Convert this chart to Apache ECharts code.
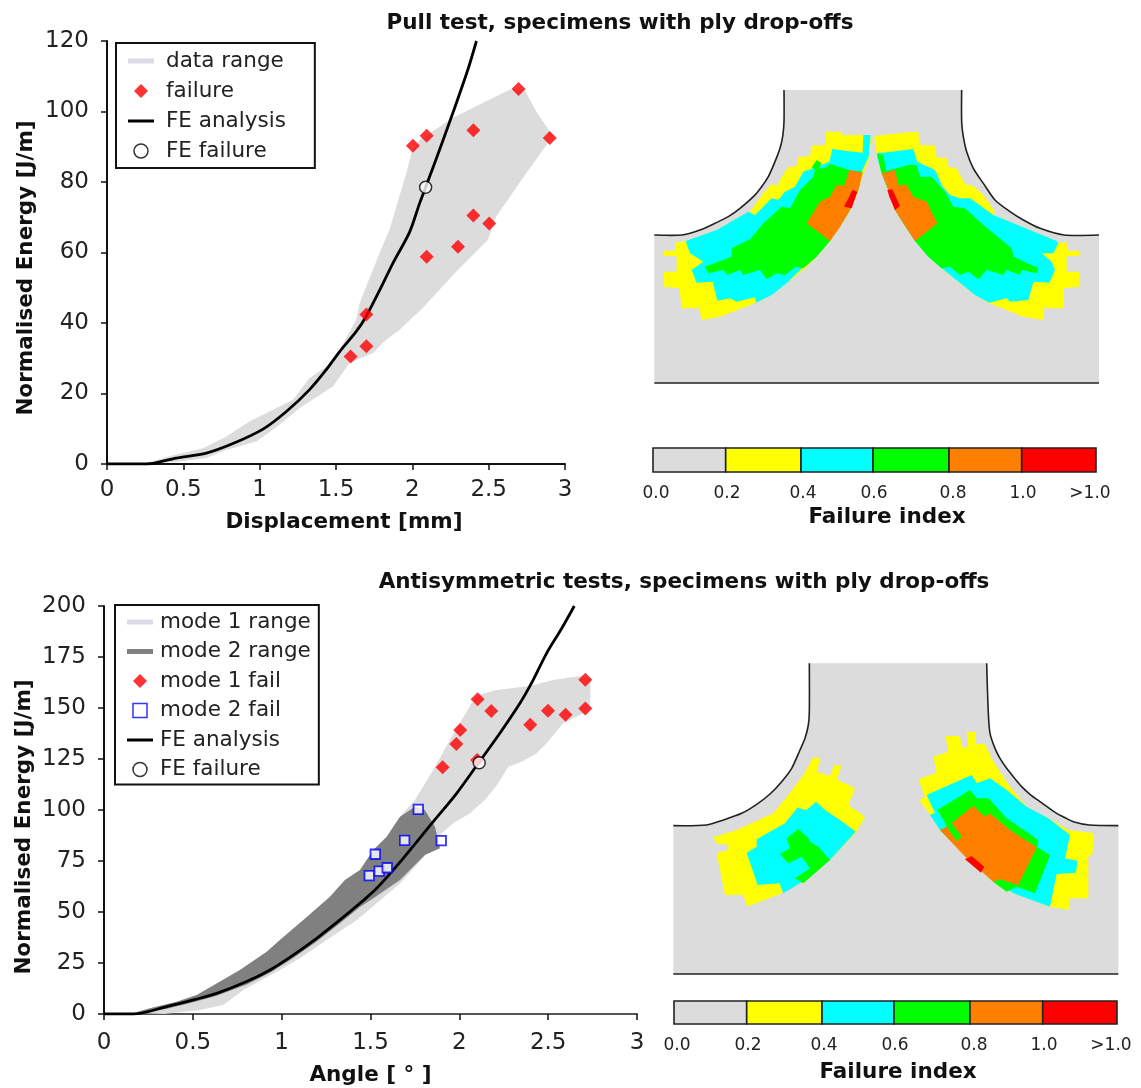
<!DOCTYPE html>
<html><head><meta charset="utf-8">
<style>html,body{margin:0;padding:0;background:#fff}#main{width:1141px;height:1088px;filter:blur(0.5px)}</style>
<script src="https://cdn.jsdelivr.net/npm/echarts@6/dist/echarts.min.js"></script>
</head><body><div id="main"></div>
<script>
// ---------- Pull test data ----------
const pullRange=[[.258,.3],[.41,2.2],[.628,4.5],[.782,7.8],[.935,12.1],[1.065,14.9],[1.218,18.2],[1.327,24.4],[1.458,28.2],[1.524,32.4],[1.633,40.9],[1.655,45.7],[1.786,59.9],[1.851,66.5],[1.961,82.6],[1.994,88.2],[2.05,92],[2.135,94.4],[2.266,98.2],[2.441,102],[2.637,106.2],[2.735,106.2],[2.812,100],[2.921,93],[2.747,82.6],[2.55,70.2],[2.495,63.6],[2.288,54.6],[2.069,44.3],[1.917,38.1],[1.83,35.3],[1.742,31.5],[1.589,28.7],[1.48,22],[1.262,15.9],[1.131,11.1],[.978,6.4],[.782,4],[.651,1.7],[.432,.5]];
const pullFailure=[[1.596,30.5],[1.699,33.4],[1.699,42.4],[2.004,90.3],[2.094,93.1],[2.4,94.7],[2.696,106.4],[2.9,92.5],[2.4,70.5],[2.504,68.2],[2.299,61.6],[2.094,58.8]];
const pullFE=[[0,0],[.258,0],[.454,1.7],[.651,3.1],[.825,5.8],[1.022,9.9],[1.175,14.9],[1.327,21.1],[1.437,26.8],[1.524,31.9],[1.633,37.6],[1.699,42],[1.8,50.5],[1.873,57],[1.982,65.8],[2.048,74],[2.087,78.5],[2.179,89.2],[2.277,101],[2.364,111.9],[2.42,120]];
const pullFEFail=[[2.087,78.5]];
// ---------- Antisymmetric test data ----------
const antiMode1=[[.165,.5],[.259,2.8],[.409,6],[.522,9.3],[.634,15],[.765,21.6],[.916,30.5],[.99,36.3],[1.122,46.1],[1.272,57.5],[1.356,65.7],[1.441,70.6],[1.516,80.4],[1.591,86.9],[1.666,96.7],[1.75,104.9],[1.853,119.6],[1.947,134.3],[2.069,152.3],[2.107,156.4],[2.21,158.8],[2.397,160.8],[2.528,163.7],[2.679,165.7],[2.739,164.5],[2.735,149],[2.679,146.6],[2.585,142.5],[2.491,132.7],[2.435,127.8],[2.351,123.7],[2.275,121.2],[2.219,113.1],[2.144,104.9],[2.06,98.4],[1.966,93.5],[1.9,88.6],[1.872,85],[1.8,77],[1.666,64],[1.422,46],[1.253,36.3],[1.103,27.3],[.972,20.7],[.784,11.8],[.671,4.4],[.54,2],[.34,0]];
const antiMode2=[[.165,.5],[.259,2.8],[.409,6],[.522,9.3],[.634,15],[.765,21.6],[.916,30.5],[.99,36.3],[1.122,46.1],[1.272,57.5],[1.356,65.7],[1.441,70.6],[1.516,80.4],[1.591,86.9],[1.666,96.7],[1.75,101.6],[1.806,100],[1.863,91.8],[1.891,81.2],[1.806,77.9],[1.666,65.7],[1.516,56.7],[1.44,52.5],[1.328,44.5],[1.197,35.5],[1.065,27.4],[.934,20.2],[.803,14.5],[.634,8.9],[.503,5.8],[.353,2.6],[.165,0]];
const antiFail1=[[2.103,154.3],[2.18,148.5],[2.005,139.2],[1.983,132.4],[1.906,121],[2.1,124.5],[2.399,141.8],[2.499,148.7],[2.598,146.7],[2.709,149.7],[2.709,163.9]];
const antiFail2=[[1.769,100.3],[1.692,85.1],[1.898,85],[1.527,78.3],[1.493,67.8],[1.549,70],[1.594,71.7]];
const antiFE=[[0,0],[.165,0],[.353,3.6],[.503,6.9],[.634,10.1],[.803,15.9],[.934,21.6],[1.065,28.9],[1.197,37.1],[1.328,46.1],[1.44,54.2],[1.535,61.6],[1.684,76.3],[1.853,94.3],[1.985,108.2],[2.107,122.9],[2.228,137.6],[2.341,152.3],[2.416,163.8],[2.491,176.8],[2.576,189],[2.647,200]];
const antiFEFail=[[2.112,123.2]];
// ---------- Failure-index contour regions (model units) ----------
const pullEdgeL=[[432,30],[432,125],[428,170],[420,205],[405,245],[385,290],[365,320],[340,350],[300,385],[265,410],[225,430],[180,450],[125,465],[43,465]];
const pullEdgeR=[[965,30],[965,125],[970,170],[980,215],[1000,265],[1030,310],[1065,360],[1110,395],[1150,420],[1200,445],[1272,465],[1377,465]];
const pullEdgeB=[[43,909],[1377,909]];
const pullBottom=[[1377,909],[43,909]];
const pullYellowL=[[557,155],[605,155],[605,165],[692,165],[692,190],[685,245],[670,280],[655,330],[630,390],[600,440],[570,483],[530,530],[490,570],[440,610],[395,645],[345,670],[240,710],[185,720],[178,685],[125,685],[118,625],[72,620],[72,575],[110,575],[110,528],[72,528],[72,512],[107,512],[107,488],[137,483],[230,450],[325,395],[345,405],[330,395],[370,340],[395,312],[412,318],[425,290],[445,262],[470,258],[475,232],[510,228],[515,197],[557,195]];
const pullCyanL=[[577,207],[620,213],[668,218],[670,165],[692,165],[686,230],[660,285],[600,440],[490,560],[440,610],[395,645],[348,668],[345,652],[290,665],[270,655],[232,662],[218,605],[170,608],[155,570],[190,545],[150,520],[137,483],[230,450],[325,395],[345,405],[395,355],[415,360],[435,335],[465,320],[490,275],[520,265],[568,245]];
const pullGreenL=[[570,252],[628,270],[668,275],[655,330],[630,390],[600,440],[570,483],[530,530],[490,565],[468,560],[435,585],[410,580],[380,598],[360,570],[310,585],[300,570],[262,585],[250,570],[205,580],[195,560],[275,530],[275,505],[330,478],[370,430],[425,380],[450,385],[480,330],[520,290],[525,268],[515,262],[530,240],[545,250],[535,265],[555,265]];
const pullOrangeL=[[628,270],[668,278],[655,330],[630,390],[600,440],[570,483],[500,430],[540,365],[570,350],[590,315],[612,318]];
const pullRedL=[[637,330],[652,335],[635,385],[612,380],[625,355]];
const pullYellowR=[[703,168],[730,165],[790,158],[835,155],[838,195],[885,197],[890,232],[920,235],[925,260],[950,265],[975,312],[1000,318],[1030,345],[1065,395],[1060,405],[1170,450],[1250,483],[1255,488],[1282,488],[1282,512],[1318,512],[1318,528],[1280,528],[1280,575],[1318,575],[1318,620],[1272,625],[1272,685],[1212,685],[1212,720],[1150,710],[1048,670],[1005,645],[960,610],[910,570],[865,530],[825,483],[790,430],[765,390],[745,330],[725,280],[712,235],[705,190]];
const pullCyanR=[[710,218],[730,218],[820,207],[832,245],[885,270],[908,320],[930,345],[960,355],[990,355],[1005,365],[1060,405],[1170,450],[1250,483],[1255,490],[1240,520],[1205,520],[1235,545],[1245,570],[1228,608],[1180,605],[1165,660],[1110,665],[1100,655],[1048,668],[1005,645],[905,565],[865,530],[825,483],[790,430],[765,390],[745,330],[725,280],[712,235]];
const pullGreenR=[[712,222],[730,225],[738,272],[770,265],[805,255],[830,255],[840,290],[875,290],[915,335],[940,380],[975,385],[1030,435],[1115,505],[1120,530],[1195,565],[1190,580],[1145,570],[1140,585],[1100,570],[1090,585],[1040,570],[1015,598],[985,575],[960,585],[930,560],[905,565],[865,530],[825,483],[790,430],[765,390],[745,330],[725,280]];
const pullOrangeR=[[725,280],[765,270],[775,315],[800,315],[820,350],[860,365],[892,430],[825,483],[790,430],[765,390],[745,330]];
const pullRedR=[[742,330],[757,328],[780,378],[765,390],[748,350]];
const antiEdgeL=[[448,40],[448,185],[445,225],[435,265],[420,300],[395,355],[365,395],[330,432],[290,463],[245,490],[190,510],[140,525],[40,527]];
const antiEdgeR=[[980,40],[985,190],[990,250],[1005,295],[1020,325],[1040,355],[1060,380],[1085,410],[1110,433],[1140,455],[1165,473],[1190,490],[1215,503],[1240,515],[1288,525],[1375,527]];
const antiEdgeB=[[40,972],[1375,972]];
const antiBottom=[[1375,972],[40,972]];
const antiYellowL=[[460,322],[482,325],[470,365],[510,378],[522,345],[545,347],[530,388],[585,415],[565,465],[615,500],[590,545],[510,630],[420,700],[365,730],[262,770],[250,735],[195,735],[170,610],[205,600],[205,585],[170,580],[160,562],[230,540],[340,490],[385,435],[430,375]];
const antiCyanL=[[468,455],[495,480],[540,510],[587,545],[510,630],[420,700],[370,730],[358,700],[293,705],[260,608],[290,590],[290,568],[375,520],[412,473],[440,480]];
const antiGreenL=[[415,537],[445,565],[450,575],[475,590],[510,630],[430,700],[405,685],[450,655],[425,620],[385,640],[360,612],[390,595],[380,565]];
const antiYellowR=[[857,258],[900,258],[905,292],[925,292],[920,247],[945,245],[948,282],[975,282],[1000,335],[1050,410],[1100,470],[1165,505],[1225,540],[1300,550],[1298,610],[1285,620],[1285,745],[1230,745],[1225,780],[1170,770],[1060,730],[1000,690],[920,620],[840,540],[815,500],[778,450],[795,440],[775,388],[830,368],[820,320],[865,305]];
const antiCyanR=[[800,435],[935,375],[950,400],[990,385],[1040,420],[1100,470],[1165,505],[1230,555],[1215,625],[1252,632],[1248,668],[1190,672],[1170,770],[1060,730],[1000,690],[840,540],[810,495],[825,488]];
const antiGreenR=[[832,480],[930,420],[950,445],[985,445],[1040,505],[1135,570],[1132,592],[1170,615],[1125,730],[1070,710],[1040,725],[1005,700],[950,650],[840,540],[860,530],[850,510]];
const antiOrangeR=[[875,520],[940,467],[975,500],[990,490],[1050,540],[1130,592],[1075,705],[1020,688],[1000,695],[950,650],[920,625],[840,540],[860,530],[890,572],[905,560]];
const antiRedR=[[915,628],[935,618],[973,650],[963,668]];
// ---------- Colour bar ----------
const barEdges=[0,72.7,148,220,296,368.7,443];
const barLabels=['0.0','0.2','0.4','0.6','0.8','1.0','>1.0'];
const barLabelAt=[3,74,150,221,300,370,437];

const C={gray:'#dcdcdc',yellow:'#ffff00',cyan:'#00ffff',green:'#00ff00',orange:'#ff8000',red:'#ff0000'};
const barColors=[C.gray,C.yellow,C.cyan,C.green,C.orange,C.red];
const TICK='DejaVu Sans', BOLD='DejaVu Sans';
const body=(l,r,b)=>l.slice().reverse().concat(r).concat(b);

function polySeries(gridIdx,pts,fill,z,name){
  return {type:'custom',name,xAxisIndex:gridIdx,yAxisIndex:gridIdx,z,silent:true,coordinateSystem:'cartesian2d',
    data:[pts[0]],clip:true,
    renderItem:(p,api)=>({type:'polygon',shape:{points:pts.map(v=>api.coord(v))},style:{fill}})};
}
function fieldSeries(gridIdx,regions,edges){
  return {type:'custom',xAxisIndex:gridIdx,yAxisIndex:gridIdx,silent:true,coordinateSystem:'cartesian2d',
    data:regions.map((r,i)=>[i]).concat(edges.map((e,i)=>[regions.length+i])),clip:false,z:2,
    renderItem:(p,api)=>{
      const i=p.dataIndex;
      if(i<regions.length) return {type:'polygon',shape:{points:regions[i][0].map(v=>api.coord(v))},style:{fill:regions[i][1]}};
      return {type:'polyline',shape:{points:edges[i-regions.length].map(v=>api.coord(v)),smooth:.25},style:{fill:null,stroke:'#222',lineWidth:1.6}};
    }};
}
function barSeries(gridIdx){
  return {type:'custom',xAxisIndex:gridIdx,yAxisIndex:gridIdx,silent:true,coordinateSystem:'cartesian2d',clip:false,z:2,
    data:barColors.map((c,i)=>[i]).concat(barLabels.map((c,i)=>[i+barColors.length])),
    renderItem:(p,api)=>{
      const i=p.dataIndex;
      if(i<barColors.length){
        const a=api.coord([barEdges[i],1]),b=api.coord([barEdges[i+1],0]);
        return {type:'rect',shape:{x:a[0],y:a[1],width:b[0]-a[0],height:b[1]-a[1]},style:{fill:barColors[i],stroke:'#222',lineWidth:1.6}};
      }
      const j=i-barColors.length,c=api.coord([barLabelAt[j],0]);
      return {type:'text',style:{text:barLabels[j],x:c[0],y:c[1]+22,align:'center',verticalAlign:'middle',font:'17px "'+TICK+'"',fill:'#222'}};
    }};
}
function mainAxes(gridIdx,xName,yName,yMax,yInt,xGap,yGap,xMargin,yShift,xColor,xShift){
  const lab={fontFamily:TICK,fontSize:23,color:'#222'};
  const nameStyle={fontFamily:BOLD,fontWeight:'bold',fontSize:21.5,color:'#111'};
  return {
    x:{type:'value',gridIndex:gridIdx,min:0,max:3,interval:.5,name:xName,nameLocation:'middle',nameGap:xGap,
      nameTextStyle:Object.assign({padding:[0,0,0,xShift]},nameStyle),
      axisLine:{show:true,lineStyle:{color:xColor,width:2}},axisTick:{show:true,length:6,lineStyle:{color:'#111',width:1.5}},splitLine:{show:false},
      axisLabel:Object.assign({margin:xMargin,showMinLabel:true,showMaxLabel:true,hideOverlap:false,formatter:v=>String(v)},lab)},
    y:{type:'value',gridIndex:gridIdx,min:0,max:yMax,interval:yInt,name:yName,nameLocation:'middle',nameGap:yGap,
      nameTextStyle:Object.assign({padding:[0,yShift,0,0]},nameStyle),
      axisLine:{show:true,lineStyle:{color:'#111',width:2}},axisTick:{show:true,length:6,lineStyle:{color:'#111',width:1.5}},splitLine:{show:false},
      axisLabel:Object.assign({margin:18,showMinLabel:true,showMaxLabel:true,hideOverlap:false},lab)}
  };
}
function hidden(gridIdx,min,max,inverse){return {type:'value',gridIndex:gridIdx,min,max,inverse:!!inverse,show:false,splitLine:{show:false}};}

const PATH={
  band:'path://M0 0H26V5H0Z',bar:'path://M0 0H26V3H0Z',
  diamond:'path://M7 0L14 7L7 14L0 7Z',square:'path://M0 0H12V12H0Z',circle:'path://M13 6.5A6.5 6.5 0 1 1 0 6.5A6.5 6.5 0 1 1 13 6.5Z'};
const item=(name,icon,color,extra)=>({name,icon,itemStyle:Object.assign({color,borderWidth:0},extra||{})});
function legend(left,top,items,pad,gap,textPad){
  return {left,top,orient:'vertical',align:'left',padding:pad,itemGap:gap,itemWidth:26,itemHeight:14,selectedMode:false,
    backgroundColor:'#fff',borderColor:'#111',borderWidth:2,borderRadius:0,z:20,
    textStyle:{fontFamily:TICK,fontSize:21.5,color:'#222',padding:[0,0,0,textPad]},data:items};
}
function title(text,cx,top){return {text,left:cx,top,textAlign:'center',padding:0,
  textStyle:{fontFamily:BOLD,fontWeight:'bold',fontSize:21.5,color:'#111'}};}

const A=mainAxes(0,'Displacement [mm]','Normalised Energy [J/m]',120,20,47,70,15,31,'#111',16);
const B=mainAxes(3,'Angle [ ° ]','Normalised Energy [J/m]',200,25,50,69,18,34,'#555',0);
const lineS=(g,name,d)=>({type:'line',name,xAxisIndex:g,yAxisIndex:g,data:d,showSymbol:false,smooth:.3,z:5,silent:true,lineStyle:{color:'#000',width:2.8},itemStyle:{color:'#000'},clip:true});
const scat=(g,name,d,symbol,size,style,z)=>({type:'scatter',name,xAxisIndex:g,yAxisIndex:g,data:d,symbol,symbolSize:size,z:z||6,silent:true,itemStyle:style,clip:false});

const option={
  animation:false,backgroundColor:'#fff',
  title:[
    title('Pull test, specimens with ply drop-offs',620,12),
    title('Failure index',887,506),
    title('Antisymmetric tests, specimens with ply drop-offs',684,571),
    title('Failure index',898,1061)
  ],
  grid:[
    {left:107,top:41,width:458,height:423},
    {left:640,top:80,width:480,height:320},
    {left:653,top:448,width:443,height:24},
    {left:104,top:606,width:533,height:408},
    {left:660,top:650,width:480,height:330},
    {left:674,top:1001,width:443,height:23}
  ],
  xAxis:[A.x,hidden(1,0,1440),hidden(2,0,443),B.x,hidden(4,0,1440),hidden(5,0,443)],
  yAxis:[A.y,hidden(1,0,960,true),hidden(2,0,1),B.y,hidden(4,0,990,true),hidden(5,0,1)],
  legend:[
    legend(116,43,[item('data range',PATH.band,'#dcdce4'),item('failure',PATH.diamond,C.red),item('FE analysis',PATH.bar,'#000'),item('FE failure',PATH.circle,'#fff',{borderColor:'#000',borderWidth:1.5})],[7,29,6,12],8,7),
    legend(115,605,[item('mode 1 range',PATH.band,'#dcdce4'),item('mode 2 range',PATH.band,'#808080'),item('mode 1 fail',PATH.diamond,C.red),item('mode 2 fail',PATH.square,'#fff',{borderColor:'#0000ff',borderWidth:1.5}),item('FE analysis',PATH.bar,'#000'),item('FE failure',PATH.circle,'#fff',{borderColor:'#000',borderWidth:1.5})],[6,8,4,12],7.5,2)
  ],
  series:[
    polySeries(0,pullRange,'#dcdcdc',2,'data range'),
    lineS(0,'FE analysis',pullFE),
    scat(0,'failure',pullFailure,'diamond',14,{color:C.red}),
    scat(0,'FE failure',pullFEFail,'circle',12,{color:'#fff',borderColor:'#000',borderWidth:1.5},7),
    fieldSeries(1,[[body(pullEdgeL,pullEdgeR,pullBottom),C.gray],[pullYellowL,C.yellow],[pullYellowR,C.yellow],[pullCyanL,C.cyan],[pullCyanR,C.cyan],[pullGreenL,C.green],[pullGreenR,C.green],[pullOrangeL,C.orange],[pullOrangeR,C.orange],[pullRedL,C.red],[pullRedR,C.red]],[pullEdgeL,pullEdgeR,pullEdgeB]),
    barSeries(2),
    polySeries(3,antiMode1,'#dcdcdc',2,'mode 1 range'),
    polySeries(3,antiMode2,'#808080',3,'mode 2 range'),
    lineS(3,'FE analysis',antiFE),
    scat(3,'mode 1 fail',antiFail1,'diamond',14,{color:C.red}),
    scat(3,'mode 2 fail',antiFail2,'rect',9.5,{color:'#fff',borderColor:'#0000ff',borderWidth:1.8}),
    scat(3,'FE failure',antiFEFail,'circle',12,{color:'#fff',borderColor:'#000',borderWidth:1.5},7),
    fieldSeries(4,[[body(antiEdgeL,antiEdgeR,antiBottom),C.gray],[antiYellowL,C.yellow],[antiYellowR,C.yellow],[antiCyanL,C.cyan],[antiCyanR,C.cyan],[antiGreenL,C.green],[antiGreenR,C.green],[antiOrangeR,C.orange],[antiRedR,C.red]],[antiEdgeL,antiEdgeR,antiEdgeB]),
    barSeries(5)
  ]
};
echarts.init(document.getElementById('main'),null,{renderer:'canvas'}).setOption(option);
</script></body></html>
